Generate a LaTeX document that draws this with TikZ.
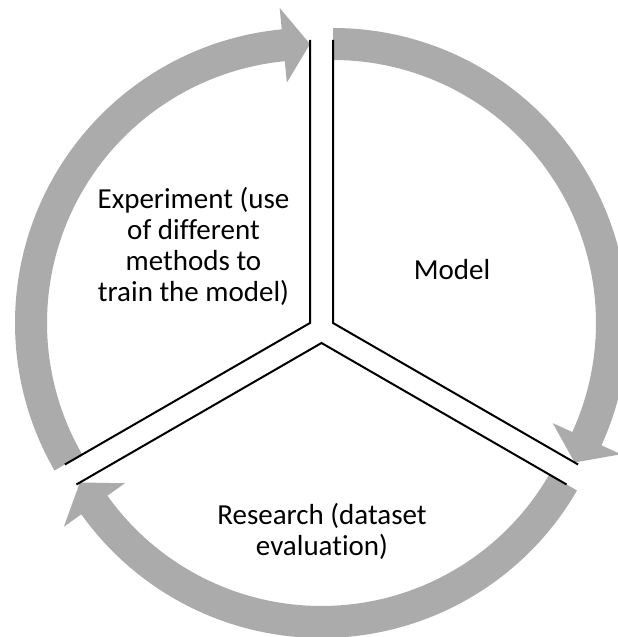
\documentclass[tikz,border=0pt]{standalone}
\usepackage{fontspec}
\setmainfont{Carlito}[Ligatures=NoCommon]
\usetikzlibrary{calc}

\definecolor{cyclegray}{RGB}{171,171,171}

\tikzset{
  divider/.style={draw=black, line width=2pt},
  cyclearrow/.style={fill=cyclegray, draw=none},
  stagelabel/.style={align=center, font=\fontsize{29}{31}\selectfont, inner sep=0pt}
}

% curved block arrow around centre #1, from angle #2 (tail) clockwise to angle #3 (tip)
\newcommand{\cyclearc}[3]{%
  \pgfmathsetmacro{\baseang}{#3+5.5}
  \fill[cyclearrow]
    ($(#1)+(#2:295pt)$) arc[start angle=#2, end angle=\baseang, radius=295pt]
    -- ($(#1)+(\baseang:316.5pt)$)
    -- ($(#1)+(#3:279pt)$)
    -- ($(#1)+(\baseang:241.5pt)$)
    -- ($(#1)+(\baseang:263pt)$)
    arc[start angle=\baseang, end angle=#2, radius=263pt]
    -- cycle;
}

\begin{document}
\begin{tikzpicture}[x=1pt, y=1pt]
  \useasboundingbox (0,0) rectangle (618,637);
  \clip (0,0) rectangle (618,637);

  % centres of the three exploded segments
  \coordinate (ec) at (310,314);
  \coordinate (mc) at (333,314);
  \coordinate (rc) at (321.5,294);

  % circular arrows
  \cyclearc{ec}{210}{90}
  \cyclearc{mc}{90}{-30}
  \cyclearc{rc}{-30}{-150}

  % segment edges
  \coordinate (etop) at ($(ec)+(90:283pt)$);
  \coordinate (eleft) at ($(ec)+(210:283pt)$);
  \coordinate (mtop) at ($(mc)+(90:283pt)$);
  \coordinate (mright) at ($(mc)+(-30:283pt)$);
  \coordinate (rleft) at ($(rc)+(210:283pt)$);
  \coordinate (rright) at ($(rc)+(-30:283pt)$);

  \draw[divider] (etop) -- (ec) -- (eleft);
  \draw[divider] (mtop) -- (mc) -- (mright);
  \draw[divider] (rleft) -- (rc) -- (rright);

  % stage labels
  \node[stagelabel] (experiment) at (193.5,391) {Experiment (use\\of different\\methods to\\train the model)};
  \node[stagelabel] (model) at (452,367) {Model};
  \node[stagelabel] (research) at (322,106) {Research (dataset\\evaluation)};
\end{tikzpicture}
\end{document}
